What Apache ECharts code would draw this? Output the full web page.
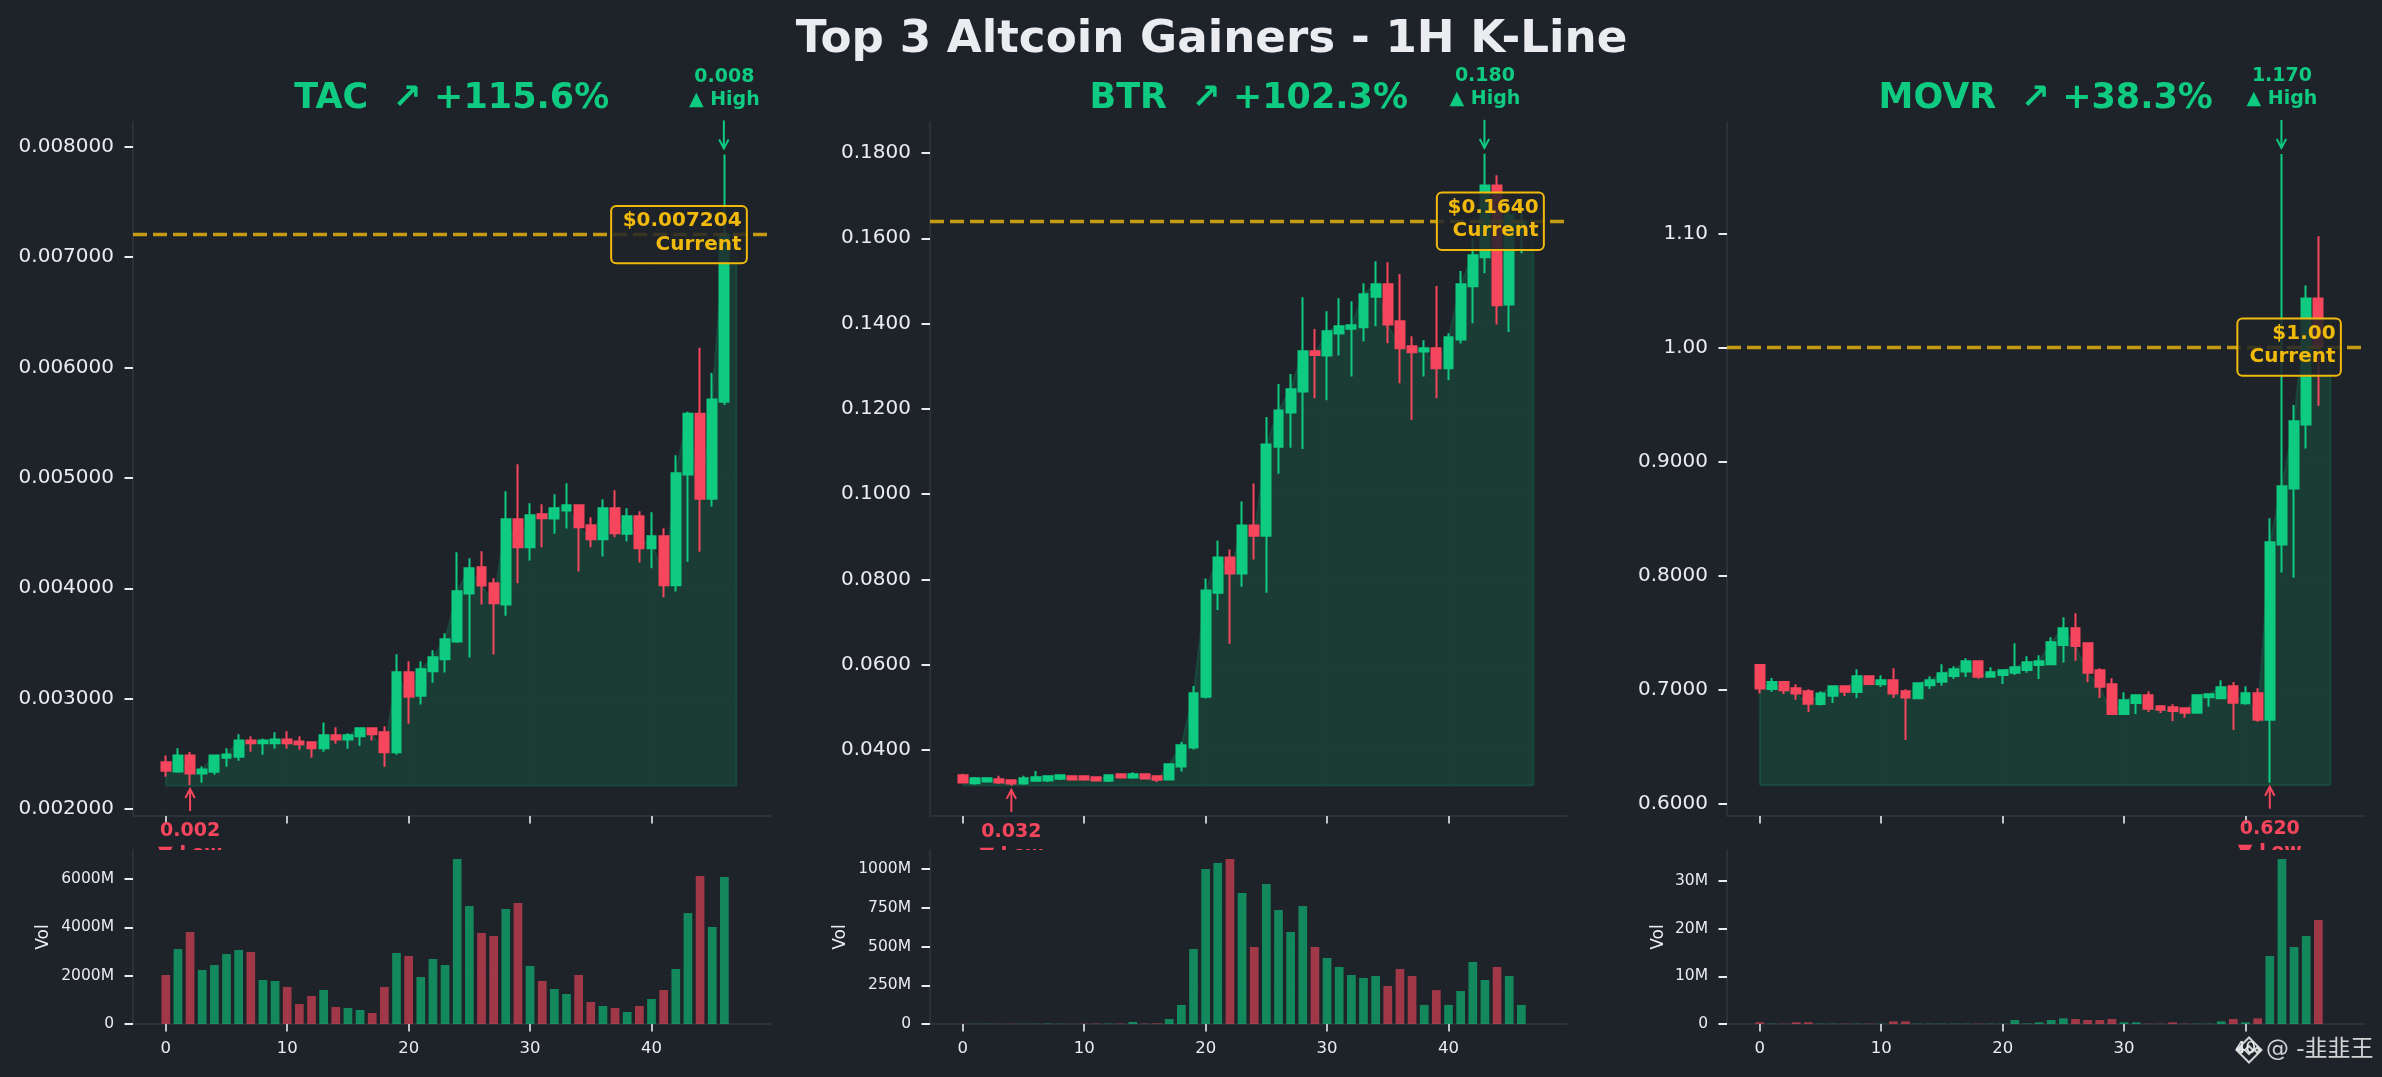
<!DOCTYPE html>
<html>
<head>
<meta charset="utf-8">
<style>html,body{margin:0;padding:0;background:#1e2329;}#c{width:2382px;height:1077px;}</style>
<script src="https://cdn.jsdelivr.net/npm/echarts@6/dist/echarts.min.js"></script>
</head>
<body>
<div id="c"></div>
<script>
const chartTitle = 'Top 3 Altcoin Gainers - 1H K-Line';
const xTicks = [0, 10, 20, 30, 40];

// rows: open, close, low, high
const tacCandles = [
[0.002423,0.002347,0.002293,0.002486],[0.002341,0.002486,0.002329,0.002550],[0.002486,0.002323,0.002218,0.002517],
[0.002323,0.002359,0.002239,0.002387],[0.002338,0.002486,0.002311,0.002495],[0.002465,0.002495,0.002384,0.002550],
[0.002474,0.002622,0.002438,0.002677],[0.002622,0.002595,0.002520,0.002659],[0.002595,0.002622,0.002492,0.002640],
[0.002595,0.002631,0.002547,0.002695],[0.002631,0.002595,0.002547,0.002704],[0.002613,0.002586,0.002538,0.002659],
[0.002604,0.002550,0.002465,0.002604],[0.002550,0.002668,0.002520,0.002785],[0.002668,0.002631,0.002592,0.002740],
[0.002631,0.002668,0.002547,0.002686],[0.002659,0.002731,0.002574,0.002731],[0.002731,0.002677,0.002622,0.002731],
[0.002695,0.002514,0.002384,0.002749],[0.002514,0.003239,0.002492,0.003402],[0.003239,0.003018,0.002773,0.003338],
[0.003027,0.003266,0.002946,0.003338],[0.003248,0.003375,0.003145,0.003438],[0.003356,0.003538,0.003236,0.003592],
[0.003517,0.003973,0.003507,0.004326],[0.003952,0.004181,0.003372,0.004272],[0.004190,0.004024,0.003852,0.004335],
[0.004045,0.003864,0.003399,0.004091],[0.003852,0.004625,0.003752,0.004879],[0.004625,0.004371,0.004045,0.005124],
[0.004371,0.004662,0.004251,0.004770],[0.004671,0.004634,0.004371,0.004761],[0.004631,0.004725,0.004495,0.004852],
[0.004704,0.004752,0.004541,0.004952],[0.004752,0.004553,0.004151,0.004761],[0.004571,0.004444,0.004371,0.004643],
[0.004444,0.004725,0.004287,0.004806],[0.004725,0.004498,0.004462,0.004888],[0.004495,0.004652,0.004426,0.004725],
[0.004652,0.004362,0.004233,0.004698],[0.004362,0.004471,0.004181,0.004689],[0.004471,0.004027,0.003918,0.004544],
[0.004027,0.005042,0.003970,0.005205],[0.005030,0.005580,0.004240,0.005600],[0.005580,0.004810,0.004330,0.006180],
[0.004810,0.005710,0.004740,0.005950],[0.005690,0.007204,0.005660,0.007930]];
const tacVolume = [2027,3100,3806,2234,2440,2896,3061,2978,1820,1779,1530,827,1158,1406,703,662,579,455,1530,2937,2813,1944,2689,2440,6826,4881,3764,3640,4757,5005,2399,1779,1448,1241,2027,910,745,662,496,745,1034,1406,2275,4592,6122,4013,6081];
const tacPriceTicks = [0.002,0.003,0.004,0.005,0.006,0.007,0.008];
const tacVolTicks = [0,2000,4000,6000];

const btrCandles = [
[0.03408,0.03237,0.03237,0.03440],[0.03221,0.03338,0.03182,0.03368],[0.03260,0.03338,0.03230,0.03346],
[0.03314,0.03237,0.03205,0.03393],[0.03290,0.03213,0.03159,0.03290],[0.03213,0.03338,0.03182,0.03393],
[0.03276,0.03362,0.03260,0.03510],[0.03284,0.03385,0.03252,0.03393],[0.03323,0.03408,0.03299,0.03424],
[0.03385,0.03307,0.03291,0.03408],[0.03385,0.03307,0.03276,0.03385],[0.03362,0.03284,0.03284,0.03362],
[0.03276,0.03408,0.03252,0.03408],[0.03432,0.03354,0.03330,0.03432],[0.03354,0.03432,0.03323,0.03479],
[0.03432,0.03330,0.03307,0.03455],[0.03385,0.03300,0.03252,0.03385],[0.03307,0.03666,0.03307,0.03690],
[0.03610,0.04110,0.03494,0.04190],[0.04057,0.05330,0.04010,0.05500],[0.05250,0.07743,0.05205,0.08024],
[0.07688,0.08516,0.07280,0.08915],[0.08516,0.08140,0.06493,0.08700],[0.08140,0.09266,0.07830,0.09828],
[0.09266,0.09024,0.08470,0.10250],[0.09024,0.11164,0.07688,0.11807],[0.11109,0.11960,0.10480,0.12580],
[0.11916,0.12460,0.11086,0.12820],[0.12408,0.13350,0.11060,0.14618],[0.13350,0.13260,0.12250,0.13870],
[0.13250,0.13820,0.12200,0.14290],[0.13770,0.13940,0.13250,0.14595],[0.13876,0.13960,0.12760,0.14525],
[0.13915,0.14690,0.13580,0.14946],[0.14630,0.14920,0.13940,0.15460],[0.14920,0.13980,0.13540,0.15440],
[0.14056,0.13420,0.12600,0.15160],[0.13470,0.13330,0.11740,0.13700],[0.13345,0.13420,0.12760,0.13610],
[0.13420,0.12955,0.12250,0.14880],[0.12955,0.13680,0.12670,0.13775],[0.13626,0.14920,0.13530,0.15235],
[0.14876,0.15600,0.14010,0.16000],[0.15555,0.17240,0.15180,0.17980],[0.17240,0.14430,0.13980,0.17480],
[0.14446,0.16550,0.13800,0.16800],[0.16150,0.16400,0.15650,0.16600]];
const btrVolume = [1,1,1,1,1,1,1,2,1,1,2,2,2,2,13,2,4,32,123,484,1000,1038,1064,845,497,903,735,593,761,497,426,368,316,297,310,245,355,310,123,219,123,213,400,284,368,310,123];
const btrPriceTicks = [0.04,0.06,0.08,0.10,0.12,0.14,0.16,0.18];
const btrVolTicks = [0,250,500,750,1000];

const movrCandles = [
[0.7219,0.7012,0.6968,0.7225],[0.7009,0.7070,0.6985,0.7105],[0.7070,0.6997,0.6965,0.7076],[0.7015,0.6968,0.6915,0.7050],
[0.6988,0.6880,0.6807,0.7006],[0.6877,0.6968,0.6863,0.6988],[0.6950,0.7032,0.6886,0.7038],[0.7032,0.6985,0.6947,0.7041],
[0.6982,0.7120,0.6930,0.7181],[0.7120,0.7053,0.7044,0.7120],[0.7050,0.7085,0.7026,0.7129],[0.7085,0.6968,0.6930,0.7190],
[0.6988,0.6933,0.6561,0.7006],[0.6927,0.7058,0.6924,0.7067],[0.7041,0.7085,0.7009,0.7120],[0.7073,0.7146,0.7038,0.7225],
[0.7123,0.7181,0.7096,0.7208],[0.7161,0.7251,0.7114,0.7278],[0.7251,0.7117,0.7099,0.7251],[0.7117,0.7155,0.7108,0.7199],
[0.7132,0.7173,0.7053,0.7173],[0.7152,0.7199,0.7132,0.7409],[0.7175,0.7243,0.7152,0.7295],[0.7219,0.7251,0.7096,0.7304],
[0.7225,0.7418,0.7219,0.7462],[0.7395,0.7541,0.7240,0.7637],[0.7541,0.7386,0.7257,0.7673],[0.7409,0.7152,0.7070,0.7409],
[0.7173,0.7029,0.6930,0.7190],[0.7050,0.6789,0.6781,0.7102],[0.6789,0.6909,0.6781,0.6980],[0.6886,0.6953,0.6789,0.6953],
[0.6953,0.6836,0.6807,0.6988],[0.6857,0.6827,0.6798,0.6865],[0.6848,0.6816,0.6728,0.6874],[0.6839,0.6801,0.6757,0.6848],
[0.6801,0.6953,0.6798,0.6956],[0.6936,0.6962,0.6854,0.6971],[0.6927,0.7023,0.6918,0.7085],[0.7032,0.6889,0.6649,0.7070],
[0.6883,0.6971,0.6871,0.7032],[0.6971,0.6740,0.6722,0.7015],[0.6740,0.8295,0.6187,0.8506],[0.8275,0.8787,0.8029,1.1700],
[0.8766,0.9357,0.7985,0.9498],[0.9327,1.0433,0.9117,1.0546],[1.0433,1.0010,0.9492,1.0978]];
const movrVolume = [0.35,0.05,0.05,0.35,0.35,0.05,0.05,0.05,0.05,0.05,0.05,0.56,0.56,0.05,0.05,0.05,0.05,0.05,0.05,0.05,0.05,0.84,0.1,0.35,0.84,1.19,1.05,0.84,0.84,1.05,0.35,0.35,0.05,0.05,0.35,0.05,0.05,0.05,0.56,1.05,0.35,1.19,14.26,34.6,16.15,18.45,21.8];
const movrPriceTicks = [0.6,0.7,0.8,0.9,1.0,1.1];
const movrVolTicks = [0,10,20,30];

const panelInfo = [
  {name:'TAC', gain:'+115.6%', candles:tacCandles, volume:tacVolume, priceTicks:tacPriceTicks, volTicks:tacVolTicks,
   current:0.007204, currentLabel:'$0.007204', highIdx:46, high:0.00793, highLabel:'0.008', lowIdx:2, low:0.002218, lowLabel:'0.002', base:0.00221,
   priceMin:0.001937, priceMax:0.008224, volMax:7200, fmt:v=>v.toFixed(6), left:133, boxW:135.7, volGap:81},
  {name:'BTR', gain:'+102.3%', candles:btrCandles, volume:btrVolume, priceTicks:btrPriceTicks, volTicks:btrVolTicks,
   current:0.1640, currentLabel:'$0.1640', highIdx:43, high:0.1798, highLabel:'0.180', lowIdx:4, low:0.03159, lowLabel:'0.032', base:0.0317,
   priceMin:0.02452, priceMax:0.18727, volMax:1122.6, fmt:v=>v.toFixed(4), left:930, boxW:107, volGap:81},
  {name:'MOVR', gain:'+38.3%', candles:movrCandles, volume:movrVolume, priceTicks:movrPriceTicks, volTicks:movrVolTicks,
   current:1.0006, currentLabel:'$1.00', highIdx:43, high:1.17, highLabel:'1.170', lowIdx:42, low:0.6187, lowLabel:'0.620', base:0.6164,
   priceMin:0.5895, priceMax:1.198, volMax:36.5, fmt:v=>v>=1?v.toFixed(2):v.toFixed(4), left:1727, boxW:103.5, volGap:60}
];

const GREEN='#0ecb81', RED='#f6465d', GOLD='#f0b90b', BG='#1e2329', SPINE='#2b3139', TXT='#eaecef';
const FONT='"DejaVu Sans"';
const TOP1=122, H1=694, TOP2=850, H2=174, W=637.5;

const grids=[], xAxes=[], yAxes=[], series=[], titles=[];
titles.push({text:chartTitle,left:1206.5,top:13,textAlign:'center',textStyle:{color:TXT,fontFamily:FONT,fontWeight:'bold',fontSize:45.2}});

panelInfo.forEach((p,idx)=>{
  const g1=grids.length, g2=g1+1;
  grids.push({left:p.left,top:TOP1,width:W,height:H1,containLabel:false});
  grids.push({left:p.left,top:TOP2,width:W,height:H2,containLabel:false});
  const split={show:true,lineStyle:{color:'rgba(255,255,255,0.035)',width:1,type:[1,3]}};
  const axLine={show:true,onZero:false,lineStyle:{color:SPINE,width:2}};
  const baseX={type:'value',min:-2.7,max:49.8,axisLine:axLine,splitLine:split};
  xAxes.push(Object.assign({},baseX,{gridIndex:g1,axisTick:{show:true,length:7.5,customValues:xTicks,lineStyle:{color:TXT,width:1.6}},axisLabel:{show:false,customValues:xTicks}}));
  xAxes.push(Object.assign({},baseX,{gridIndex:g2,axisTick:{show:true,length:7.5,customValues:xTicks,lineStyle:{color:TXT,width:1.6}},axisLabel:{show:true,customValues:xTicks,margin:16,color:TXT,fontFamily:FONT,fontSize:16.5}}));
  yAxes.push({type:'value',gridIndex:g1,min:p.priceMin,max:p.priceMax,axisLine:axLine,splitLine:split,
    axisTick:{show:true,length:8.5,customValues:p.priceTicks,lineStyle:{color:TXT,width:2}},
    axisLabel:{customValues:p.priceTicks,margin:19,color:TXT,fontFamily:FONT,fontSize:20,padding:[5,0,0,0],formatter:p.fmt}});
  yAxes.push({type:'value',gridIndex:g2,min:0,max:p.volMax,name:'Vol',nameLocation:'middle',nameGap:p.volGap,nameRotate:90,
    nameTextStyle:{color:TXT,fontFamily:FONT,fontSize:17},axisLine:axLine,splitLine:split,
    axisTick:{show:true,length:8.5,customValues:p.volTicks,lineStyle:{color:TXT,width:2}},
    axisLabel:{customValues:p.volTicks,margin:19,color:TXT,fontFamily:FONT,fontSize:15.5,padding:[2,0,0,0],formatter:v=>v===0?'0':v+'M'}});

  titles.push({text:p.name+'  ↗ '+p.gain,left:p.left+W/2-5,top:76.5,textAlign:'center',textStyle:{color:GREEN,fontFamily:FONT,fontWeight:'bold',fontSize:35}});

  const closes=p.candles.map(r=>r[1]);
  const last=closes.length-1;
  const fillPath=[[0,p.base]].concat(closes.map((c,i)=>[i,c]),[[last+1,closes[last]],[last+1,p.base],[0,p.base]]);
  series.push({type:'line',xAxisIndex:g1,yAxisIndex:g1,data:fillPath,showSymbol:false,symbol:'none',silent:true,z:1,
    lineStyle:{color:GREEN,width:2,opacity:0.15},areaStyle:{color:GREEN,opacity:0.15,origin:p.base},clip:true});
  series.push({type:'candlestick',xAxisIndex:g1,yAxisIndex:g1,z:2,barWidth:9.4,silent:true,
    encode:{x:0,y:[1,2,3,4]},
    itemStyle:{color:GREEN,color0:RED,borderColor:GREEN,borderColor0:RED,borderWidth:2},
    data:p.candles.map((r,i)=>[i,r[0],r[1],r[2],r[3]])});
  series.push({type:'line',xAxisIndex:g1,yAxisIndex:g1,z:3,silent:true,data:[[0,p.current]],showSymbol:false,symbol:'none',lineStyle:{width:0},
    markLine:{silent:true,symbol:'none',precision:10,label:{show:false},animation:false,
      lineStyle:{color:GOLD,opacity:0.8,width:3.4,type:[14,6]},data:[{yAxis:p.current}]}});
  series.push({type:'bar',xAxisIndex:g2,yAxisIndex:g2,z:2,barWidth:8.7,silent:true,
    data:p.volume.map((v,i)=>({value:[i,v],itemStyle:{color:p.candles[i][1]>=p.candles[i][0]?GREEN:RED,opacity:0.6}}))});
  series.push({type:'custom',xAxisIndex:g1,yAxisIndex:g1,z:6,silent:true,clip:false,
    encode:{x:0,y:1},data:[[p.highIdx,p.high]],
    renderItem:(params,api)=>{
      const hi=api.coord([p.highIdx,p.high]);
      const lo=api.coord([p.lowIdx,p.low]);
      const cur=api.coord([last,p.current]);
      const arrow=(x,y1,y2,color)=>{
        const d=y2>y1?-1:1;
        return {type:'group',children:[
          {type:'line',shape:{x1:x,y1:y1,x2:x,y2:y2},style:{stroke:color,lineWidth:2}},
          {type:'polyline',shape:{points:[[x-4.7,y2+d*9],[x,y2],[x+4.7,y2+d*9]]},style:{stroke:color,lineWidth:2,fill:null}}
        ]};
      };
      const label=(x,y,text,color,size,align,clip)=>{
        const el={type:'text',style:{x:x,y:y,text:text,fill:color,font:'bold '+size+'px '+FONT,textAlign:align,textVerticalAlign:'middle'}};
        if(clip) el.clipPath={type:'rect',shape:{x:0,y:0,width:2382,height:TOP2}};
        return el;
      };
      const bx=cur[0]+22.5, by=cur[1];
      return {type:'group',children:[
        arrow(hi[0]-0.5,hi[1]-34,hi[1]-6,GREEN),
        label(hi[0],hi[1]-77.5,p.highLabel,GREEN,19,'center'),
        label(hi[0],hi[1]-54.5,'▲ High',GREEN,19,'center'),
        arrow(lo[0],lo[1]+26,lo[1]+4,RED),
        label(lo[0],lo[1]+46.5,p.lowLabel,RED,19,'center',true),
        label(lo[0],lo[1]+69,'▼ Low',RED,19,'center',true),
        {type:'rect',shape:{x:bx-p.boxW,y:by-28.7,width:p.boxW,height:57.4,r:5},style:{fill:'rgba(30,35,41,0.85)',stroke:GOLD,lineWidth:2}},
        label(bx-5.3,by-13.3,p.currentLabel,GOLD,20,'right'),
        label(bx-5.3,by+10,'Current',GOLD,20,'right')
      ]};
    }});
});

const chart=echarts.init(document.getElementById('c'),null,{renderer:'canvas',width:2382,height:1077});
const wmColor='rgba(255,255,255,0.8)';
const dia=(cx,cy,r)=>({type:'polygon',shape:{points:[[cx,cy-r],[cx+r,cy],[cx,cy+r],[cx-r,cy]]},style:{fill:null,stroke:wmColor,lineWidth:2}});
chart.setOption({
  animation:false,backgroundColor:BG,title:titles,grid:grids,xAxis:xAxes,yAxis:yAxes,series:series,
  graphic:[
    dia(2249,1050,12.5), dia(2249,1050,4),
    dia(2241,1050,2.5), dia(2257,1050,2.5),
    {type:'text',x:2266,y:1050,z:10,style:{text:'@ -韭韭王',fill:wmColor,font:'23px "DejaVu Sans","Noto Sans CJK SC"',textVerticalAlign:'middle'}}
  ]
});
</script>
</body>
</html>
